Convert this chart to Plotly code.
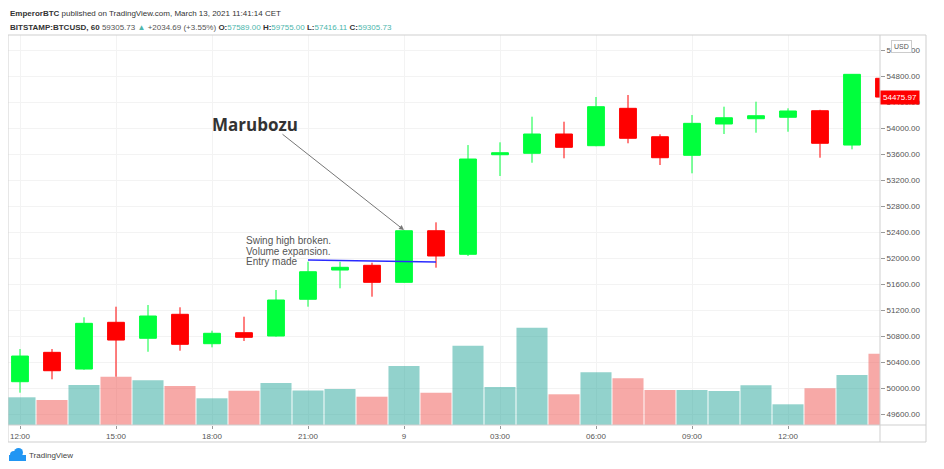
import plotly.graph_objects as go
import pandas as pd

# ---------------- data ----------------
times = ["2021-03-08 12:00", "2021-03-08 13:00", "2021-03-08 14:00", "2021-03-08 15:00",
         "2021-03-08 16:00", "2021-03-08 17:00", "2021-03-08 18:00", "2021-03-08 19:00",
         "2021-03-08 20:00", "2021-03-08 21:00", "2021-03-08 22:00", "2021-03-08 23:00",
         "2021-03-09 00:00", "2021-03-09 01:00", "2021-03-09 02:00", "2021-03-09 03:00",
         "2021-03-09 04:00", "2021-03-09 05:00", "2021-03-09 06:00", "2021-03-09 07:00",
         "2021-03-09 08:00", "2021-03-09 09:00", "2021-03-09 10:00", "2021-03-09 11:00",
         "2021-03-09 12:00", "2021-03-09 13:00", "2021-03-09 14:00", "2021-03-09 15:00"]

open_ = [50097, 50549, 50292, 51011, 50765, 51134, 50682, 50851, 50800, 51365, 51815, 51888,
         51626, 52420, 52057, 53589, 53611, 53908, 53728, 54303, 53866, 53580, 54062, 54143,
         54165, 54266, 53738, 54765]
high = [50600, 50600, 51088, 51251, 51277, 51242, 50882, 51097, 51508, 51943, 51943, 51928,
        52430, 52549, 53738, 53780, 54174, 54097, 54477, 54508, 53903, 54200, 54328, 54405,
        54303, 54280, 54830, 54800]
low = [49928, 50134, 50280, 50174, 50558, 50574, 50626, 50723, 50790, 51251, 51534, 51405,
       51620, 51851, 52031, 53262, 53466, 53534, 53720, 53765, 53431, 53303, 53908, 53928,
       53943, 53543, 53672, 54420]
close = [50492, 50266, 50995, 50738, 51108, 50672, 50842, 50780, 51354, 51789, 51857, 51626,
         52420, 52031, 53523, 53620, 53908, 53703, 54328, 53842, 53543, 54072, 54158, 54189,
         54262, 53765, 54826, 54475.97]
volume = [277, 250, 400, 483, 447, 390, 267, 343, 420, 345, 360, 283, 590, 323, 793, 380,
          973, 307, 527, 467, 350, 350, 340, 397, 207, 367, 500, 713]

tick_times = ["2021-03-08 12:00", "2021-03-08 15:00", "2021-03-08 18:00", "2021-03-08 21:00",
              "2021-03-09 00:00", "2021-03-09 03:00", "2021-03-09 06:00", "2021-03-09 09:00",
              "2021-03-09 12:00"]
tick_labels = ["12:00", "15:00", "18:00", "21:00", "9", "03:00", "06:00", "09:00", "12:00"]
price_ticks = [49600, 50000, 50400, 50800, 51200, 51600, 52000, 52400, 52800, 53200, 53600,
               54000, 54400, 54800, 55200]

last_price = 54475.97
entry_line = [51969, 51938]

x = pd.to_datetime(times)
UP = "#00ff3c"
DOWN = "#ff0000"
VOL_UP = "rgba(38,166,154,0.5)"
VOL_DOWN = "rgba(239,83,80,0.5)"
vol_colors = [VOL_UP if c >= o else VOL_DOWN for o, c in zip(open_, close)]

# page has an 8px body margin: figure origin sits at (8, 8) of the window
OFF = 8
W, H = 944 - OFF, 469 - OFF
# plot area in window pixels: x 8..880, y 35..425
L, R, T, B = 8, 880, 35, 425
def px(v):
    return (v - L) / (R - L)
def py(v):
    return (B - v) / (B - T)

fig = go.Figure()
fig.add_trace(go.Bar(x=x, y=volume, marker=dict(color=vol_colors, line=dict(width=0)),
                     yaxis="y", hoverinfo="skip", showlegend=False))
fig.add_trace(go.Candlestick(
    x=x, open=open_, high=high, low=low, close=close, yaxis="y2",
    increasing=dict(line=dict(color=UP, width=1), fillcolor=UP),
    decreasing=dict(line=dict(color=DOWN, width=1), fillcolor=DOWN),
    whiskerwidth=0, hoverinfo="skip", showlegend=False))

GRID = "#f3f3f3"
TICKFONT = dict(family="Liberation Sans", size=8, color="#555555")
fig.update_layout(
    width=W, height=H,
    margin=dict(l=L - OFF, r=944 - R, t=T - OFF, b=469 - B, pad=0),
    paper_bgcolor="white", plot_bgcolor="white",
    bargap=0.03, boxgap=0.25,
    showlegend=False,
    xaxis=dict(type="date", range=["2021-03-08 11:37:30", "2021-03-09 14:52:30"],
               rangeslider=dict(visible=False), tickvals=pd.to_datetime(tick_times),
               ticktext=tick_labels, ticks="outside", ticklen=3, tickcolor="#999",
               tickfont=TICKFONT, showgrid=True, gridcolor=GRID, zeroline=False,
               showline=False),
    yaxis=dict(range=[0, 3900], visible=False, fixedrange=True),
    yaxis2=dict(overlaying="y", side="right", range=[49431, 55431], tickvals=price_ticks,
                tickformat=".2f", ticks="outside", ticklen=4, tickcolor="#999",
                tickfont=TICKFONT, showgrid=True, gridcolor=GRID, zeroline=False,
                showline=False),
)

# frame lines
frame = "#cfcfcf"
fig.add_shape(type="rect", xref="paper", yref="paper", x0=0, x1=px(926), y0=py(442), y1=1,
              line=dict(color=frame, width=1))
fig.add_shape(type="line", xref="paper", yref="paper", x0=1, x1=1, y0=py(442), y1=1,
              line=dict(color=frame, width=1))
fig.add_shape(type="line", xref="paper", yref="paper", x0=0, x1=px(926), y0=0, y1=0,
              line=dict(color=frame, width=1))

# entry line
fig.add_shape(type="line", xref="x", yref="y2", x0=x[9], x1=x[13], y0=entry_line[0],
              y1=entry_line[1], line=dict(color="#2b2bff", width=1.5))

# header
HFONT = dict(family="Liberation Sans", size=8, color="#333333")
TEAL = "#4db6ac"
fig.add_annotation(xref="paper", yref="paper", x=0, y=py(14), xanchor="left", yanchor="middle",
                   showarrow=False, font=HFONT,
                   text="<b>EmperorBTC</b> published on TradingView.com, March 13, 2021 11:41:14 CET")
fig.add_annotation(xref="paper", yref="paper", x=0, y=py(27), xanchor="left", yanchor="middle",
                   showarrow=False, font=HFONT,
                   text=("<b>BITSTAMP:BTCUSD, 60</b> <span style='color:#555'>59305.73</span> "
                         f"<span style='color:{TEAL}'>▲</span> <span style='color:#555'>+2034.69 (+3.55%)</span> "
                         f"<b>O:</b><span style='color:{TEAL}'>57589.00</span> "
                         f"<b>H:</b><span style='color:{TEAL}'>59755.00</span> "
                         f"<b>L:</b><span style='color:{TEAL}'>57416.11</span> "
                         f"<b>C:</b><span style='color:{TEAL}'>59305.73</span>"))

# Marubozu label + arrow
fig.add_annotation(xref="paper", yref="paper", x=px(255), y=py(125), xanchor="center",
                   yanchor="middle", showarrow=False,
                   text="<b>Marubozu</b>", font=dict(family="Open Sans", size=17, color="#333333"))
fig.add_annotation(xref="x", yref="y2", x=x[12], y=52430, ax=-123, ay=-97, text="",
                   showarrow=True, arrowhead=2, arrowsize=1, arrowwidth=1, arrowcolor="#777777")

# notes
NFONT = dict(family="Liberation Sans", size=10, color="#555555")
for txt, yy in [("Swing high broken.", 240), ("Volume expansion.", 251), ("Entry made", 262)]:
    fig.add_annotation(xref="paper", yref="paper", x=px(244), y=py(yy), xanchor="left",
                       yanchor="middle", showarrow=False, text=txt, font=NFONT)

# last price label
fig.add_annotation(xref="paper", yref="y2", x=1, y=last_price, xanchor="left", yanchor="middle",
                   showarrow=False, text=f"{last_price:.2f}", bgcolor=DOWN, borderpad=2,
                   font=dict(family="Liberation Sans", size=8, color="white"))
# USD label
fig.add_annotation(xref="paper", yref="paper", x=px(901), y=py(46), xanchor="center",
                   yanchor="middle", showarrow=False, text="USD",
                   bgcolor="white", bordercolor="#cccccc", borderwidth=1, borderpad=2,
                   font=dict(family="Liberation Sans", size=7, color="#555555"))

# TradingView footer
BLUE = "#2196f3"
fig.add_shape(type="circle", xref="paper", yref="paper", x0=px(10), x1=px(18), y0=py(459), y1=py(451),
              fillcolor=BLUE, line=dict(width=0))
fig.add_shape(type="circle", xref="paper", yref="paper", x0=px(14), x1=px(23), y0=py(457), y1=py(448),
              fillcolor=BLUE, line=dict(width=0))
fig.add_shape(type="rect", xref="paper", yref="paper", x0=px(9), x1=px(26), y0=py(461), y1=py(455),
              fillcolor=BLUE, line=dict(width=0))
fig.add_annotation(xref="paper", yref="paper", x=px(27), y=py(455), xanchor="left", yanchor="middle",
                   showarrow=False, text="TradingView",
                   font=dict(family="Liberation Sans", size=8, color="#444444"))

fig.write_html("out.html")
